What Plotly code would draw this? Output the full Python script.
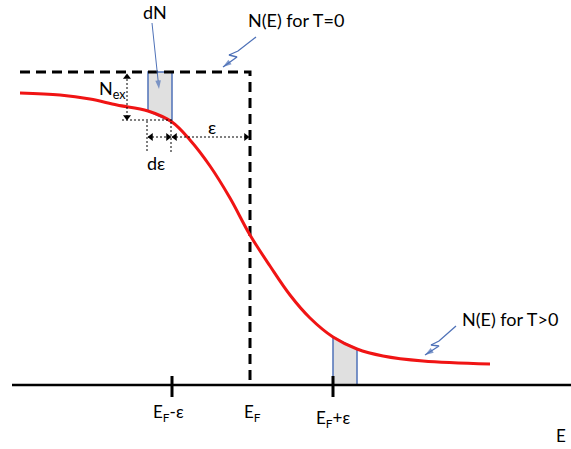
import plotly.graph_objects as go

# ---- data (energy E in arbitrary units, occupation N in arbitrary units; N0 = full occupation)
E_CURVE = [20, 60, 90, 117, 148, 172, 190, 210, 230, 250, 270, 290, 310, 333, 357, 383, 423, 490]
N_CURVE = [292, 290, 286, 280, 274, 263, 245, 219, 187, 150, 119, 90, 67, 48, 36, 29, 24, 21]

E_STEP = [20, 250, 250]
N_STEP = [313, 313, 0]

AXIS_E = [12, 571]
TICK_E = [172, 333]
LABEL_E = [168, 252, 333]
LABEL_N = [-28, -28, -34]
LABELS = ["E<sub>F</sub>-ε", "E<sub>F</sub>", "E<sub>F</sub>+ε"]

N0 = 313
E_F = 250
STRIP_LEFT = [148, 172]     # dε strip below E_F (empty states)
STRIP_RIGHT = [333, 357]    # dε strip above E_F (filled states)

BLACK = "#000000"
RED = "#f01414"
BLUE = "#4f72b8"
GRAY = "#e0e0e0"
FONT = "Lato, 'Open Sans', sans-serif"

fig = go.Figure()


def n_at(e):
    return N_CURVE[E_CURVE.index(e)]


# shaded strips
l0, l1 = STRIP_LEFT
fig.add_trace(go.Scatter(x=[l0, l0, l1, l1, l0], y=[n_at(l0), N0, N0, n_at(l1), n_at(l0)],
                         fill="toself", fillcolor=GRAY, mode="lines",
                         line=dict(color=BLUE, width=1.5), hoverinfo="skip"))
r0, r1 = STRIP_RIGHT
fig.add_trace(go.Scatter(x=[r0, r0, r1, r1, r0], y=[0, n_at(r0), n_at(r1), 0, 0],
                         fill="toself", fillcolor=GRAY, mode="lines",
                         line=dict(color=BLUE, width=1.5), hoverinfo="skip"))

# energy axis
fig.add_trace(go.Scatter(x=AXIS_E, y=[0, 0], mode="lines",
                         line=dict(color=BLACK, width=2.5), hoverinfo="skip"))

# T = 0 step
fig.add_trace(go.Scatter(x=E_STEP, y=N_STEP, mode="lines",
                         line=dict(color=BLACK, width=3, dash="10px,6px"), hoverinfo="skip"))

# T > 0 curve
fig.add_trace(go.Scatter(x=E_CURVE, y=N_CURVE, mode="lines", line_shape="spline",
                         line=dict(color=RED, width=3), hoverinfo="skip"))

# tick marks
for e in TICK_E:
    fig.add_shape(type="line", x0=e, x1=e, y0=9, y1=-12, line=dict(color=BLACK, width=3))

# dotted helper lines
dotted = dict(color=BLACK, width=1, dash="2px,2px")
n_ex_bottom = 265
row = 248
fig.add_shape(type="line", x0=127, x1=127, y0=N0 - 3, y1=n_ex_bottom + 1, line=dotted)
fig.add_shape(type="line", x0=122, x1=l1, y0=n_ex_bottom, y1=n_ex_bottom, line=dotted)
fig.add_shape(type="line", x0=l0 - 1, x1=l0 - 1, y0=n_ex_bottom - 1, y1=232, line=dotted)
fig.add_shape(type="line", x0=l1 - 1, x1=l1 - 1, y0=n_at(l1), y1=232, line=dotted)
fig.add_shape(type="line", x0=l0, x1=l1 - 2, y0=row, y1=row, line=dotted)
fig.add_shape(type="line", x0=l1, x1=E_F - 2, y0=row, y1=row, line=dotted)

# arrowheads
heads = [
    (127, N0 - 5, "triangle-up"),
    (127, n_ex_bottom + 3, "triangle-down"),
    (l0 + 3, row, "triangle-left"),
    (l1 - 4, row, "triangle-right"),
    (l1 + 3, row, "triangle-left"),
    (E_F - 4, row, "triangle-right"),
]
fig.add_trace(go.Scatter(x=[h[0] for h in heads], y=[h[1] for h in heads], mode="markers",
                         marker=dict(symbol=[h[2] for h in heads], size=7, color=BLACK),
                         hoverinfo="skip"))


# blue pointers: polyline ending in an arrowhead
def pointer(pts, width=1.3):
    n = len(pts)
    fig.add_trace(go.Scatter(
        x=[p[0] for p in pts], y=[p[1] for p in pts], mode="lines+markers",
        line=dict(color=BLUE, width=width),
        marker=dict(symbol="arrow", angleref="previous", color=BLUE,
                    size=[0] * (n - 1) + [9], line=dict(width=0)),
        hoverinfo="skip"))


pointer([(152, 362), (159, 296)], width=1)
pointer([(256, 348), (238, 334), (229, 330), (237, 328), (223, 318)])
pointer([(456, 59), (439, 44), (431, 40), (439, 39), (425, 30)])


# text labels
def label(x, y, text, size=17, yanchor="middle"):
    fig.add_annotation(x=x, y=y, xref="x", yref="y", text=text, showarrow=False,
                       font=dict(family=FONT, size=size, color=BLACK),
                       xanchor="center", yanchor=yanchor)


for x, y, t in zip(LABEL_E, LABEL_N, LABELS):
    label(x, y, t)
label(561, -63, "E", yanchor="bottom")
label(296, 365, "N(E) for T=0", 18)
label(510, 66, "N(E) for T>0", 18)
label(155, 373, "dN", 18)
label(112, 296, "N<sub>ex</sub>", 18)
label(156, 222, "dε", 18)
label(212, 258, "ε", 18)

fig.update_layout(
    width=571, height=449, margin=dict(l=0, r=0, t=0, b=0),
    paper_bgcolor="white", plot_bgcolor="white", showlegend=False,
    xaxis=dict(range=[0, 571], visible=False, fixedrange=True),
    yaxis=dict(range=[-64, 385], visible=False, fixedrange=True),
)

fig.write_html("out.html")
